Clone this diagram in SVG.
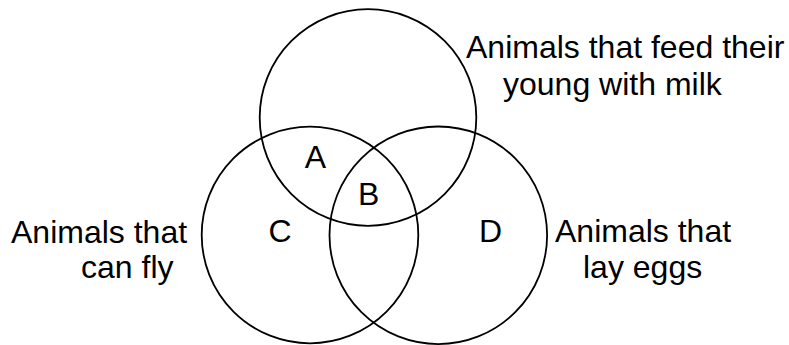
<svg xmlns="http://www.w3.org/2000/svg" width="789" height="345" viewBox="0 0 789 345">
<style>
.c{fill:none;stroke:#000;stroke-width:1.8}
.t{font-family:"Liberation Sans",Arial,sans-serif;font-size:32px;fill:#000}
.m{text-anchor:middle}
</style>
<rect width="789" height="345" fill="#fff"/>
<g id="set-milk">
<circle class="c" cx="368" cy="117.5" r="108.3"/>
<text class="t" x="466" y="58">Animals that feed their</text>
<text class="t" x="503" y="95">young with milk</text>
</g>
<g id="set-fly">
<circle class="c" cx="310" cy="235" r="108.3"/>
<text class="t" x="11" y="243">Animals that</text>
<text class="t" x="81" y="278">can fly</text>
</g>
<g id="set-eggs">
<circle class="c" cx="438.3" cy="235.3" r="108.8"/>
<text class="t" x="555" y="242">Animals that</text>
<text class="t" x="583" y="278">lay eggs</text>
</g>
<g id="region-A"><text class="t m" x="315.3" y="168.3">A</text></g>
<g id="region-B"><text class="t m" x="368.7" y="205">B</text></g>
<g id="region-C"><text class="t m" x="280" y="241.7">C</text></g>
<g id="region-D"><text class="t m" x="490.5" y="241.7">D</text></g>
<g id="connectors"></g>
</svg>
